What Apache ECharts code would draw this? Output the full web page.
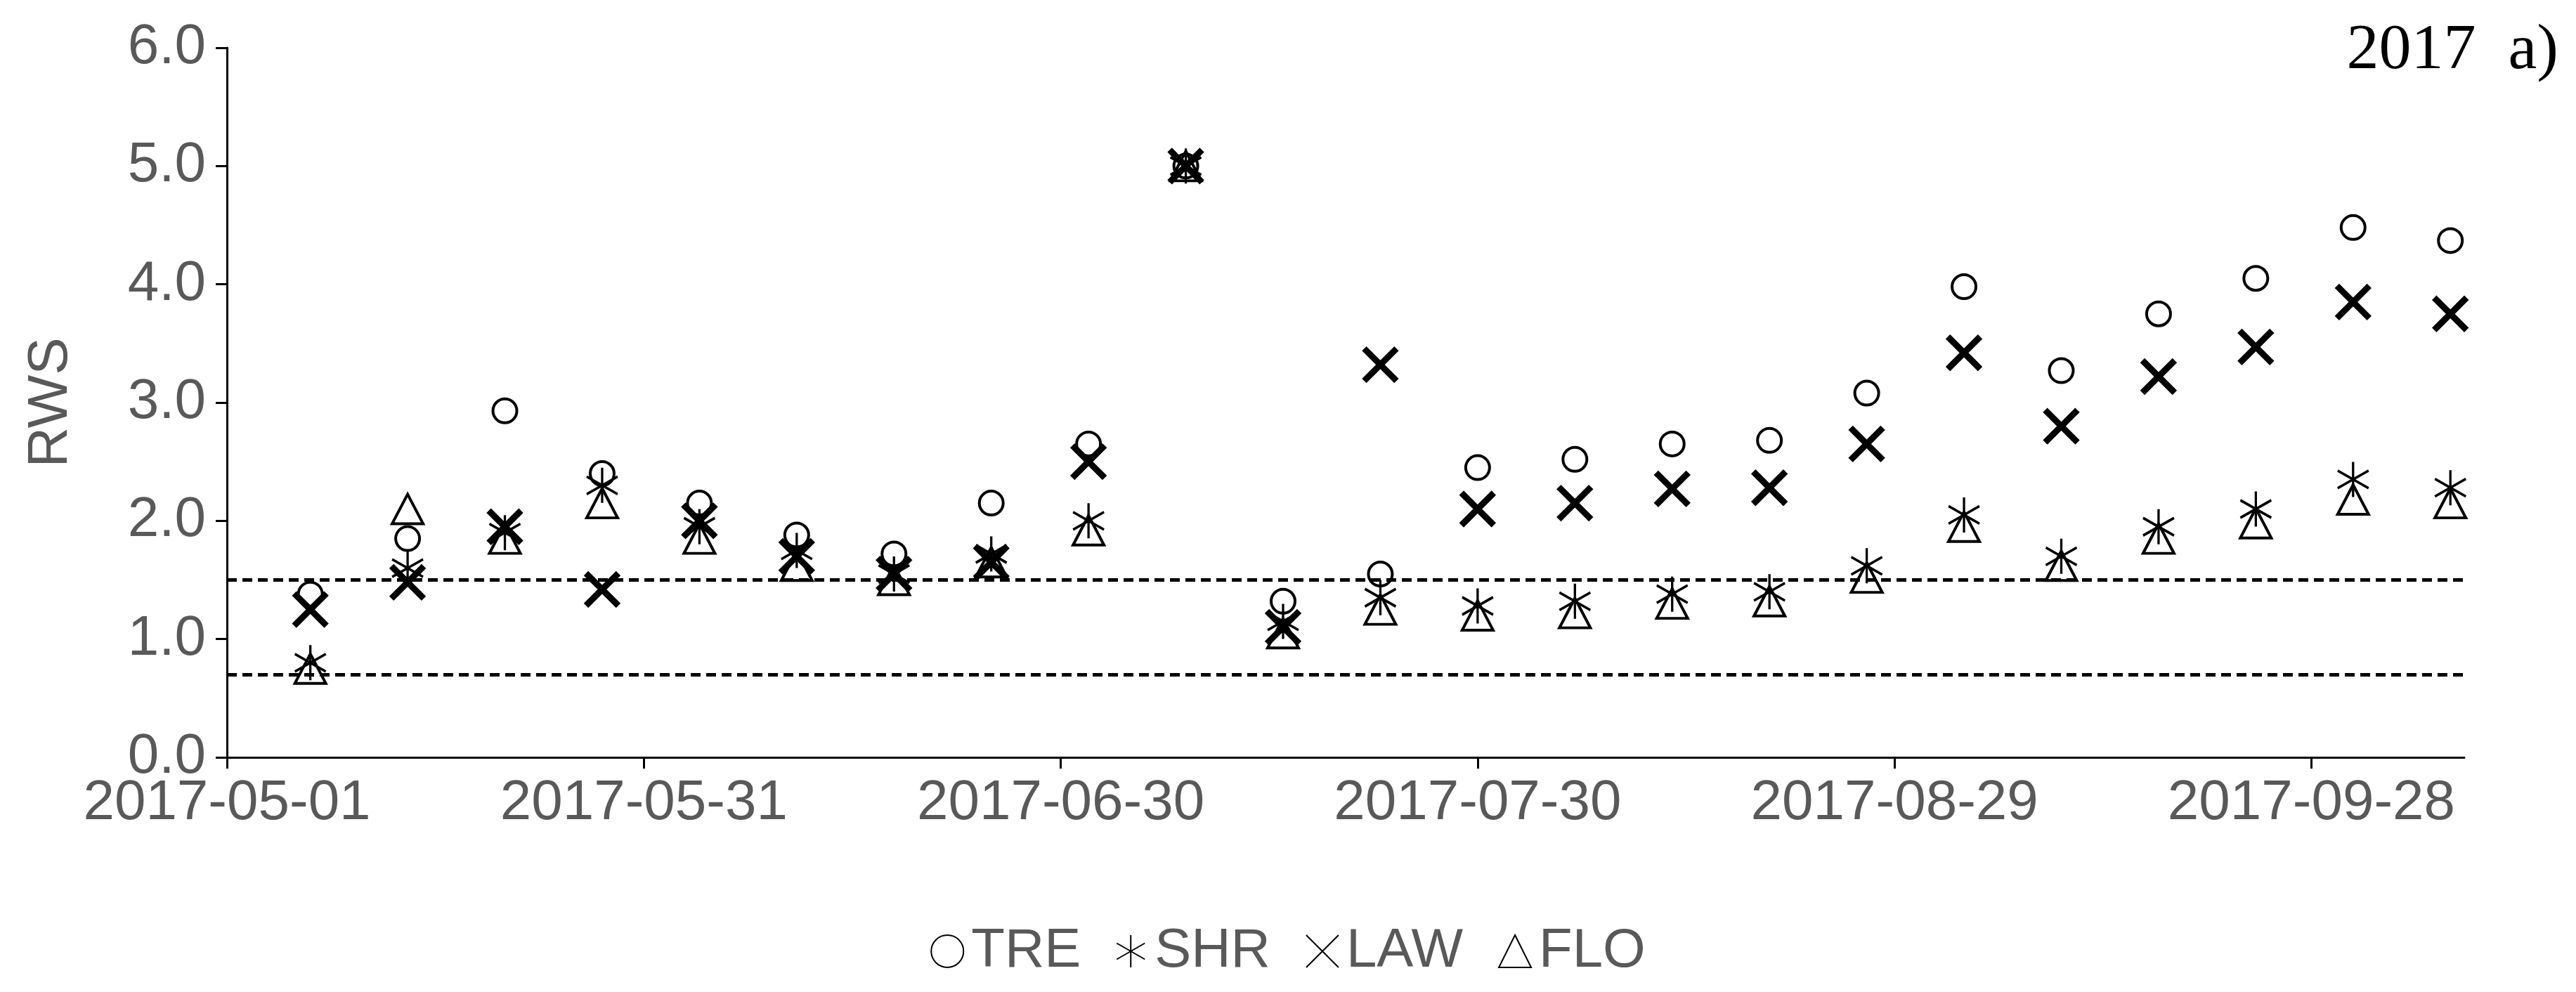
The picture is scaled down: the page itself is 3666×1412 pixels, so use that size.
<!DOCTYPE html>
<html><head><meta charset="utf-8">
<script src="https://cdn.jsdelivr.net/npm/echarts@6/dist/echarts.min.js"></script>
<style>html,body{margin:0;padding:0;background:#fff}#c{width:3666px;height:1412px}</style>
</head><body><div id="c"></div>
<script>
const startDate = '2017-05-01';
const dates = ['2017-05-07','2017-05-14','2017-05-21','2017-05-28','2017-06-04','2017-06-11','2017-06-18','2017-06-25','2017-07-02','2017-07-09','2017-07-16','2017-07-23','2017-07-30','2017-08-06','2017-08-13','2017-08-20','2017-08-27','2017-09-03','2017-09-10','2017-09-17','2017-09-24','2017-10-01','2017-10-08'];
const TRE = [1.38,1.85,2.93,2.40,2.15,1.88,1.72,2.15,2.65,5.00,1.32,1.55,2.45,2.52,2.65,2.68,3.08,3.98,3.27,3.75,4.05,4.48,4.37];
const SHR = [0.80,1.60,1.90,2.30,1.95,1.75,1.55,1.72,2.00,5.00,1.15,1.35,1.28,1.32,1.38,1.40,1.62,2.05,1.70,1.95,2.10,2.35,2.28];
const LAW = [1.25,1.48,1.95,1.42,2.00,1.70,1.55,1.65,2.50,5.00,1.10,3.32,2.10,2.15,2.27,2.28,2.65,3.42,2.80,3.22,3.47,3.85,3.75];
const FLO = [0.75,2.10,1.85,2.15,1.85,1.62,1.50,1.65,1.92,5.00,1.05,1.25,1.20,1.22,1.30,1.32,1.52,1.95,1.62,1.85,1.98,2.18,2.15];
const thresholds = [1.5, 0.7];

const DAY = 86400000;
const t0 = Date.parse(startDate);
const dayOf = d => Math.round((Date.parse(d) - t0) / DAY);
const fmt = n => { const d = new Date(t0 + n*DAY); return d.toISOString().slice(0,10); };
const pts = arr => arr.map((v,i)=>[dayOf(dates[i]), v]);

const asterisk = 'path://M0,-10L0,10M-8.7,-5L8.7,5M-8.7,5L8.7,-5';
const cross = 'path://M-8,-8L8,8M-8,8L8,-8';
const gray = '#595959';
const emph = {disabled:true};

const chart = echarts.init(document.getElementById('c'));
chart.setOption({
  animation:false,
  grid:{left:323,right:159,top:68,bottom:334},
  title:{text:'2017  a)',right:20,top:22,textStyle:{fontFamily:'Liberation Serif',fontWeight:'normal',fontSize:92,color:'#000'}},
  legend:{top:1310,left:'center',itemGap:50,itemWidth:46,itemHeight:46,textStyle:{fontSize:78,color:gray,fontFamily:'Liberation Sans',padding:[0,0,0,6]},
    data:['TRE','SHR','LAW','FLO']},
  xAxis:{type:'value',min:0,max:161,interval:30,
    axisLine:{lineStyle:{color:'#000',width:3}},
    axisTick:{show:true,length:16,lineStyle:{color:'#000',width:3}},
    splitLine:{show:false},
    axisLabel:{formatter:v=>fmt(v),fontSize:80,color:gray,fontFamily:'Liberation Sans',margin:26,showMaxLabel:false}},
  yAxis:{type:'value',min:0,max:6,interval:1,name:'RWS',nameLocation:'middle',nameGap:210,
    nameTextStyle:{fontSize:80,color:gray,fontFamily:'Liberation Sans'},
    axisLine:{show:true,lineStyle:{color:'#000',width:3}},
    axisTick:{show:true,length:16,lineStyle:{color:'#000',width:3}},
    splitLine:{show:false},
    axisLabel:{formatter:v=>v.toFixed(1),fontSize:80,color:gray,fontFamily:'Liberation Sans',margin:30}},
  series:[
    {name:'TRE',type:'scatter',data:pts(TRE),symbol:'circle',symbolSize:34,emphasis:emph,
      itemStyle:{color:'#fff',borderColor:'#000',borderWidth:4,opacity:1},
      markLine:{silent:true,symbol:'none',label:{show:false},lineStyle:{type:[14,8],color:'#000',width:5},
        data:thresholds.map(v=>({yAxis:v}))}},
    {name:'SHR',type:'scatter',data:pts(SHR),symbol:asterisk,symbolSize:[44,50],emphasis:emph,
      itemStyle:{color:'transparent',borderColor:'#000',borderWidth:3.5,opacity:1}},
    {name:'LAW',type:'scatter',data:pts(LAW),symbol:cross,symbolSize:46,emphasis:emph,
      itemStyle:{color:'transparent',borderColor:'#000',borderWidth:9,opacity:1}},
    {name:'FLO',type:'scatter',data:pts(FLO),symbol:'triangle',symbolSize:[44,42],emphasis:emph,
      itemStyle:{color:'transparent',borderColor:'#000',borderWidth:4,opacity:1}}
  ]
});
</script></body></html>
